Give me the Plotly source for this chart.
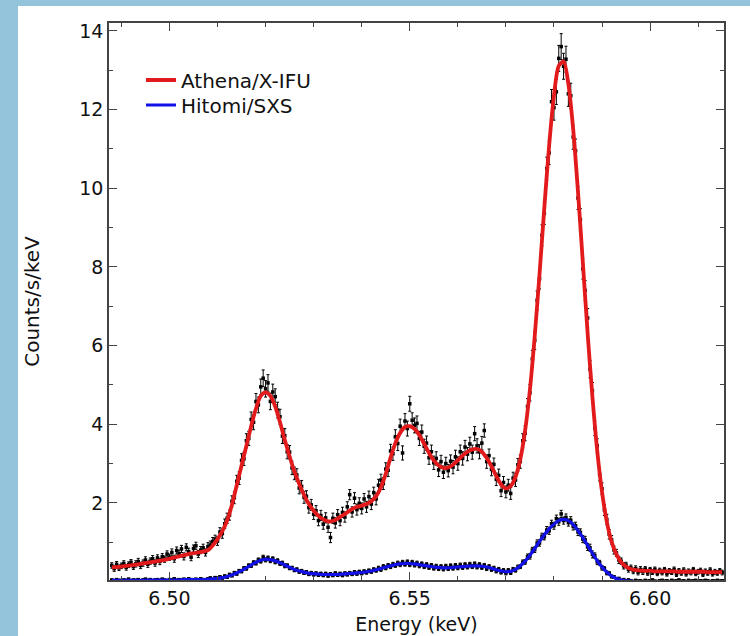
import numpy as np
import plotly.graph_objects as go

# ---------------- data ----------------
model_e0 = 6.488   # first model energy (keV), 1 eV steps
data_e0 = 6.488    # first data bin (keV), 0.5 eV steps

athena_model = [0.36,0.37,0.38,0.40,0.41,0.43,0.45,0.47,0.49,0.51,
 0.53,0.55,0.58,0.61,0.64,0.67,0.70,0.72,0.74,0.76,
 0.80,0.92,1.08,1.28,1.55,1.95,2.45,2.95,3.45,3.95,
 4.40,4.72,4.81,4.72,4.45,4.05,3.60,3.18,2.80,2.48,
 2.20,1.97,1.80,1.67,1.58,1.53,1.54,1.60,1.68,1.76,
 1.84,1.90,1.93,1.97,2.04,2.17,2.40,2.74,3.15,3.52,
 3.78,3.93,3.95,3.88,3.72,3.50,3.27,3.08,2.95,2.89,
 2.90,2.97,3.08,3.20,3.30,3.36,3.37,3.30,3.14,2.93,
 2.68,2.47,2.37,2.43,2.66,3.11,3.84,4.88,6.24,7.82,
 9.51,11.09,12.35,13.11,13.22,12.65,11.50,9.91,8.13,6.32,
 4.70,3.33,2.28,1.52,1.01,0.69,0.49,0.38,0.32,0.29,
 0.28,0.27,0.27,0.26,0.26,0.26,0.26,0.26,0.25,0.25,
 0.25,0.25,0.25,0.25,0.24,0.24,0.24,0.24]

hitomi_model = [0.03,0.03,0.03,0.03,0.03,0.03,0.03,0.03,0.04,0.04,
 0.04,0.04,0.04,0.04,0.04,0.05,0.05,0.05,0.05,0.05,
 0.06,0.07,0.08,0.10,0.13,0.17,0.22,0.28,0.35,0.42,
 0.49,0.54,0.57,0.56,0.53,0.48,0.42,0.36,0.31,0.27,
 0.24,0.21,0.20,0.19,0.18,0.18,0.18,0.18,0.19,0.20,
 0.21,0.22,0.23,0.25,0.27,0.30,0.33,0.37,0.40,0.43,
 0.45,0.46,0.46,0.45,0.43,0.41,0.39,0.37,0.36,0.35,
 0.35,0.36,0.37,0.38,0.39,0.40,0.40,0.39,0.37,0.34,
 0.30,0.27,0.25,0.26,0.31,0.40,0.52,0.67,0.84,1.02,
 1.19,1.34,1.46,1.55,1.58,1.55,1.45,1.30,1.12,0.92,
 0.72,0.53,0.37,0.24,0.14,0.08,0.04,0.02,0.01,0.00]

athena_data = [0.41,0.33,0.44,0.35,0.40,0.46,0.36,0.43,0.49,0.38,
 0.45,0.51,0.41,0.47,0.55,0.44,0.52,0.58,0.47,0.60,
 0.51,0.63,0.57,0.70,0.62,0.74,0.58,0.79,0.71,0.83,
 0.64,0.87,0.76,0.62,0.84,0.91,0.70,0.80,0.86,0.74,
 0.89,0.93,1.02,1.08,1.03,1.26,1.22,1.47,1.61,1.69,
 2.04,2.13,2.55,2.63,3.08,3.12,3.58,3.64,4.12,4.05,
 4.58,4.49,4.95,5.17,4.90,5.05,4.58,4.82,4.70,4.36,
 4.19,3.70,3.71,3.30,3.29,2.89,2.75,2.71,2.38,2.42,
 2.14,2.17,1.88,1.95,1.71,1.80,1.55,1.68,1.46,1.62,
 1.38,1.12,1.61,1.49,1.70,1.55,1.76,1.64,1.90,2.21,
 1.77,2.12,1.83,1.99,1.86,2.10,1.90,2.16,1.97,2.26,
 2.10,2.45,2.58,2.49,2.86,2.83,3.32,3.25,3.68,3.51,
 3.95,3.27,4.08,3.89,4.52,4.10,3.97,4.02,3.64,3.80,
 3.44,3.52,3.15,3.30,3.02,3.13,2.84,3.05,2.78,3.00,
 2.82,3.06,2.91,3.17,3.00,3.30,3.13,3.42,3.24,3.50,
 3.29,3.76,3.45,3.30,3.52,3.84,3.05,3.20,2.85,2.98,
 2.60,2.70,2.31,2.52,2.28,2.45,2.24,2.63,2.58,2.97,
 3.05,3.58,3.77,4.45,4.80,5.66,6.13,7.15,7.70,8.80,
 9.36,10.50,10.90,12.20,12.05,12.45,13.30,13.60,13.10,13.28,
 12.40,12.35,11.30,10.95,9.75,9.20,7.95,7.40,6.70,5.40,
 4.85,3.90,3.45,2.72,2.36,1.82,1.58,1.20,1.06,0.80,
 0.73,0.55,0.52,0.40,0.42,0.31,0.35,0.27,0.33,0.24,
 0.31,0.25,0.32,0.22,0.30,0.24,0.31,0.21,0.28,0.23,
 0.30,0.20,0.27,0.24,0.31,0.19,0.27,0.22,0.29,0.20,
 0.26,0.23,0.30,0.21,0.25,0.28,0.19,0.26,0.22,0.29,
 0.20,0.25,0.22,0.27,0.23]

athena_err = ([0.07]*10 + [0.08]*15 + [0.09]*15 +
 [0.10,0.10,0.10,0.10,0.11,0.11,0.12,0.12,0.13,0.13,
  0.14,0.15,0.15,0.16,0.17,0.17,0.18,0.18,0.19,0.19,
  0.20,0.20,0.20,0.21,0.21,0.21,0.21,0.20,0.20,0.20,
  0.19,0.19,0.18,0.18,0.17,0.17,0.16,0.16,0.15,0.15,
  0.15,0.14,0.14,0.14,0.13,0.13,0.13,0.13,0.13,0.13,
  0.13,0.13,0.13,0.13,0.13,0.13,0.13,0.13,0.13,0.13,
  0.13,0.14,0.14,0.14,0.14,0.14,0.14,0.14,0.14,0.14,
  0.15,0.15,0.15,0.15,0.16,0.16,0.17,0.17,0.18,0.18,
  0.18,0.18,0.19,0.19,0.19,0.19,0.19,0.19,0.18,0.18,
  0.18,0.18,0.17,0.17,0.17,0.17,0.17,0.16,0.16,0.16,
  0.16,0.16,0.17,0.17,0.17,0.17,0.17,0.17,0.17,0.17,
  0.18,0.18,0.18,0.18,0.17,0.17,0.17,0.17,0.16,0.16,
  0.16,0.16,0.15,0.15,0.15,0.15,0.15,0.15,0.16,0.16,
  0.17,0.18,0.19,0.20,0.21,0.22,0.23,0.24,0.26,0.27,
  0.28,0.29,0.30,0.31,0.32,0.32,0.33,0.33,0.33,0.33,
  0.32,0.32,0.31,0.30,0.29,0.28,0.26,0.25,0.24,0.22,
  0.21,0.19,0.18,0.16,0.15,0.14,0.13,0.12,0.11,0.10,
  0.09,0.09,0.08,0.08,0.07,0.07,0.07,0.07,0.07,0.07,
  0.07,0.07] + [0.06]*33)

hitomi_data = [0.04,0.02,0.05,0.03,0.01,0.04,0.03,0.06,0.02,0.04,
 0.03,0.05,0.02,0.04,0.06,0.03,0.05,0.02,0.04,0.05,
 0.03,0.06,0.04,0.02,0.05,0.04,0.07,0.03,0.05,0.04,
 0.06,0.03,0.07,0.05,0.04,0.06,0.03,0.07,0.05,0.04,
 0.07,0.09,0.05,0.10,0.07,0.12,0.09,0.14,0.11,0.18,
 0.15,0.22,0.20,0.27,0.26,0.34,0.33,0.41,0.40,0.48,
 0.47,0.55,0.52,0.62,0.55,0.60,0.53,0.58,0.50,0.53,
 0.46,0.47,0.40,0.41,0.34,0.35,0.29,0.31,0.25,0.27,
 0.22,0.24,0.19,0.22,0.18,0.21,0.17,0.20,0.16,0.20,
 0.15,0.19,0.16,0.21,0.17,0.20,0.16,0.21,0.18,0.22,
 0.19,0.24,0.20,0.25,0.21,0.26,0.23,0.28,0.25,0.31,
 0.28,0.34,0.31,0.38,0.35,0.41,0.38,0.44,0.41,0.47,
 0.43,0.49,0.44,0.50,0.43,0.49,0.42,0.47,0.40,0.45,
 0.38,0.43,0.36,0.41,0.34,0.39,0.33,0.38,0.32,0.39,
 0.33,0.40,0.34,0.41,0.35,0.42,0.36,0.43,0.37,0.44,
 0.38,0.45,0.37,0.43,0.36,0.41,0.33,0.38,0.31,0.34,
 0.27,0.31,0.24,0.28,0.22,0.28,0.23,0.31,0.29,0.37,
 0.38,0.49,0.50,0.63,0.64,0.80,0.81,0.98,0.98,1.15,
 1.14,1.31,1.29,1.47,1.42,1.60,1.52,1.72,1.55,1.63,
 1.50,1.56,1.40,1.42,1.26,1.25,1.08,1.06,0.88,0.86,
 0.69,0.66,0.50,0.48,0.35,0.33,0.22,0.21,0.13,0.12,
 0.07,0.08,0.03,0.05,0.01,0.04,0.02,0.00,0.03,0.01,
 0.02,0.00,0.03,0.01,0.02,0.04,0.01,0.00,0.02,0.03,
 0.01,0.02,0.00,0.03,0.01,0.02,0.04,0.01,0.02,0.00,
 0.03,0.01,0.02,0.03,0.00,0.02,0.01,0.03,0.02,0.00,
 0.02,0.01,0.03,0.01,0.02]

hitomi_err = ([0.025]*41 + [0.03]*10 + [0.04]*8 + [0.05]*14 + [0.04]*38 +
 [0.05]*60 + [0.06,0.06,0.07,0.07,0.07,0.07,0.08,0.08,0.08,0.08] +
 [0.09]*20 + [0.07,0.07,0.06,0.06,0.05,0.05,0.04,0.04,0.03,0.03] +
 [0.025]*44)

x_tickvals = [6.50, 6.55, 6.60]
x_ticktext = ["6.50", "6.55", "6.60"]
y_tickvals = [2, 4, 6, 8, 10, 12, 14]
y_minorvals = [1, 3, 5, 7, 9, 11, 13]

# ---------------- figure ----------------
me_a = model_e0 + 0.001 * np.arange(len(athena_model))
me_h = model_e0 + 0.001 * np.arange(len(hitomi_model))
de_a = data_e0 + 0.0005 * np.arange(len(athena_data))
de_h = data_e0 + 0.0005 * np.arange(len(hitomi_data))

RED = "#e31a1c"
BLUE = "#1212e8"
AX = "#444444"
SLIDE = "#94c4dc"
FONT = "DejaVu Sans"

W, H = 750, 636
L, R, T, B = 109, 26, 23, 56
pw = W - L - R
ph = H - T - B

def py(pix):  # figure pixel row -> paper y
    return 1 - (pix - T) / ph

def px(pix):  # figure pixel column -> paper x
    return (pix - L) / pw

fig = go.Figure()

def data_trace(x, y, err):
    return go.Scatter(
        x=x, y=y, mode="markers", showlegend=False, hoverinfo="skip",
        marker=dict(symbol="square", size=3.5, color="black"),
        error_y=dict(type="data", array=err, visible=True,
                     color="black", thickness=1, width=1.5),
    )

fig.add_trace(data_trace(de_h, hitomi_data, hitomi_err))
fig.add_trace(data_trace(de_a, athena_data, athena_err))

fig.add_trace(go.Scatter(x=me_h, y=hitomi_model, mode="lines", name="Hitomi/SXS",
                         line=dict(color=BLUE, width=3.2, shape="spline", smoothing=0.8),
                         legend="legend2"))
fig.add_trace(go.Scatter(x=me_a, y=athena_model, mode="lines", name="Athena/X-IFU",
                         line=dict(color=RED, width=3.8, shape="spline", smoothing=0.8),
                         legend="legend"))

# slide background: blue strip at left / top, white card
fig.add_shape(type="rect", xref="paper", yref="paper", layer="below",
              x0=px(18), x1=px(W + 20),
              y0=py(H + 20), y1=py(6),
              fillcolor="white", line=dict(width=0))

leg_common = dict(xanchor="left", yanchor="middle", bgcolor="rgba(0,0,0,0)",
                  borderwidth=0, font=dict(family=FONT, size=20, color="#111111"))

fig.update_layout(
    width=W, height=H,
    margin=dict(l=L, r=R, t=T, b=B, autoexpand=False),
    paper_bgcolor=SLIDE,
    plot_bgcolor="white",
    font=dict(family=FONT, size=19, color="#111111"),
    showlegend=True,
    legend=dict(x=px(141), y=py(80), **leg_common),
    legend2=dict(x=px(141), y=py(105), **leg_common),
)

fig.update_xaxes(
    range=[6.48742, 6.61538], showgrid=False, zeroline=False,
    showline=True, linecolor=AX, linewidth=1.5, mirror="allticks",
    ticks="inside", ticklen=8, tickwidth=1.3, tickcolor=AX,
    tickvals=x_tickvals, ticktext=x_ticktext, tickfont=dict(size=19),
    minor=dict(ticks="inside", ticklen=4, tickwidth=1.3, tickcolor=AX,
               tick0=6.49, dtick=0.01, showgrid=False),
    title=dict(text="Energy (keV)", font=dict(size=19), standoff=10),
    automargin=False,
)
fig.update_yaxes(
    range=[0.04, 14.2], showgrid=False, zeroline=False,
    showline=True, linecolor=AX, linewidth=1.5, mirror="allticks",
    ticks="inside", ticklen=8, tickwidth=1.3, tickcolor=AX,
    tickvals=y_tickvals, tickfont=dict(size=19),
    minor=dict(ticks="inside", ticklen=4, tickwidth=1.3, tickcolor=AX,
               tickvals=y_minorvals, showgrid=False),
    title=dict(text="Counts/s/keV", font=dict(size=20), standoff=34),
    automargin=False,
)

fig.write_html(
    "out.html",
    config={"displayModeBar": False},
    post_script="document.body.style.margin='0px';"
                "document.body.style.background='" + SLIDE + "';",
)
